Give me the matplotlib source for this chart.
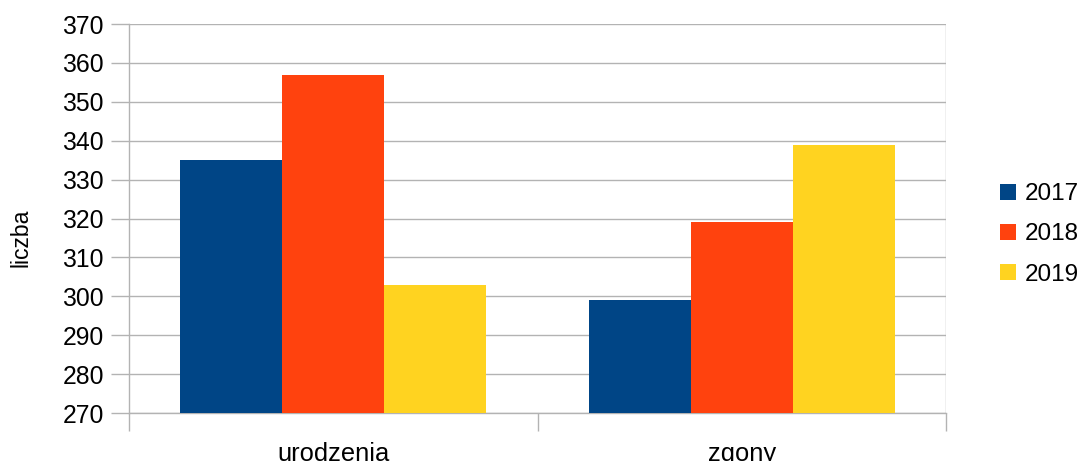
import matplotlib
matplotlib.use("Agg")
import matplotlib.pyplot as plt
import numpy as np

categories = ["urodzenia", "zgony"]
years = ["2017", "2018", "2019"]
values_2017 = [335, 299]
values_2018 = [357, 319]
values_2019 = [303, 339]
colors = ["#004586", "#ff420e", "#ffd320"]
y_label = "liczba"

plt.rcParams['font.family'] = ['Liberation Sans', 'DejaVu Sans']

W, H = 1083, 461
fig = plt.figure(figsize=(W / 100, H / 100), dpi=100)
left, right, top, bottom = 129, 946, 24, 413
ax = fig.add_axes([left / W, 1 - bottom / H, (right - left) / W, (bottom - top) / H])

series = [values_2017, values_2018, values_2019]
x = np.arange(len(categories))
bw = 0.75 / 3
for i, (vals, col, yr) in enumerate(zip(series, colors, years)):
    ax.bar(x - 0.375 + bw * (i + 0.5), np.array(vals) - 270, bottom=270, width=bw,
           color=col, label=yr, zorder=3, linewidth=0)

ax.set_xlim(-0.5, 1.5)
ax.set_ylim(270, 370)
ax.set_yticks(np.arange(270, 371, 10))
ax.yaxis.grid(True, color="#b3b3b3", linewidth=1.0, zorder=0)
ax.set_xticks([-0.5, 0.5, 1.5])
ax.set_xticklabels([])
ax.set_xticks(x, minor=True)
ax.set_xticklabels(categories, minor=True)
ax.tick_params(axis='x', which='minor', length=0, pad=21, labelsize=18.4)
ax.tick_params(axis='x', which='major', length=13, width=1.0, color="#b3b3b3")
ax.tick_params(axis='y', length=13, width=1.0, color="#b3b3b3", labelsize=17.8, pad=5)

for s in ["top", "right"]:
    ax.spines[s].set_visible(False)
for s in ["left", "bottom"]:
    ax.spines[s].set_color("#b3b3b3")
    ax.spines[s].set_linewidth(1.0)

ax.axvline(1.5, color="#b3b3b3", linewidth=1.0, zorder=1)

fig.text(21 / W, 1 - 238 / H, y_label, rotation=90, ha='center', va='center', fontsize=16.6)

leg = ax.legend(loc='center left', bbox_to_anchor=(1.0 + 54 / (right - left), 0.5 - 16 / (bottom - top)),
                frameon=False, fontsize=17.5, handlelength=0.65, handleheight=0.65,
                handletextpad=0.35, labelspacing=0.75, borderaxespad=0, borderpad=0)

fig.savefig("out.png", dpi=100)
